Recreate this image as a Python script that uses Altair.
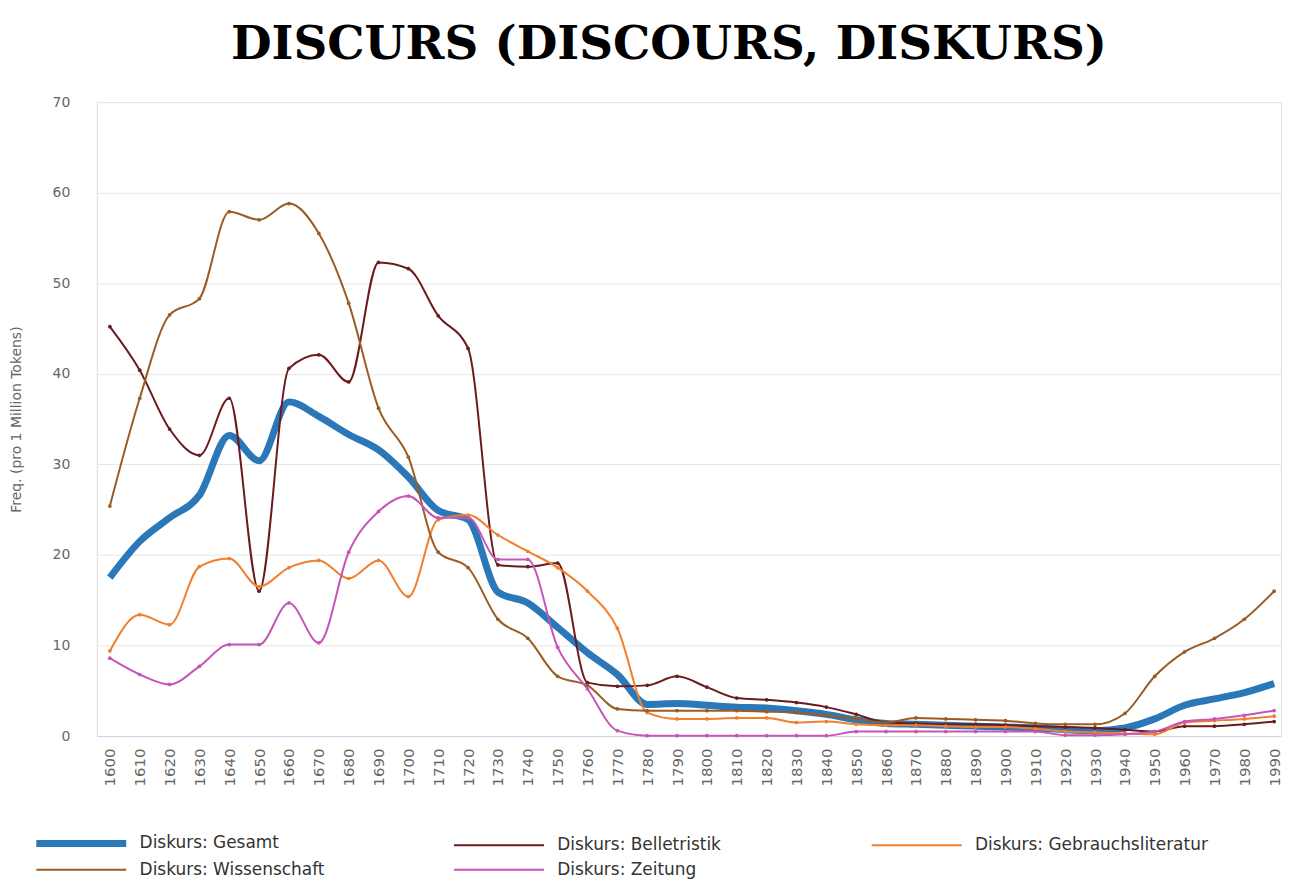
import altair as alt
import pandas as pd

years = list(range(1600, 2000, 10))

gesamt = [17.5, 21.5, 24.1, 26.6, 33.2, 30.4, 36.9, 35.3, 33.3, 31.6,
          28.6, 24.9, 23.9, 15.9, 14.7, 12.0, 9.2, 6.8, 3.5, 3.6,
          3.4, 3.2, 3.1, 2.8, 2.4, 1.8, 1.4, 1.3, 1.2, 1.1,
          1.0, 0.9, 0.7, 0.6, 0.9, 1.9, 3.4, 4.1, 4.8, 5.8]
belletristik = [45.2, 40.4, 33.9, 31.0, 37.3, 16.0, 40.6, 42.1, 39.1, 52.3,
                51.6, 46.4, 42.8, 18.9, 18.7, 19.1, 5.9, 5.5, 5.6, 6.6,
                5.4, 4.2, 4.0, 3.7, 3.2, 2.4, 1.5, 1.4, 1.3, 1.3,
                1.2, 1.1, 1.0, 0.9, 0.7, 0.5, 1.1, 1.1, 1.3, 1.6]
gebrauchsliteratur = [9.4, 13.4, 12.3, 18.7, 19.6, 16.5, 18.6, 19.4, 17.4, 19.4,
                      15.4, 23.9, 24.4, 22.2, 20.4, 18.6, 16.0, 11.9, 2.6, 1.9,
                      1.9, 2.0, 2.0, 1.5, 1.6, 1.3, 1.2, 1.2, 1.1, 1.0,
                      1.0, 0.8, 0.5, 0.4, 0.3, 0.2, 1.5, 1.7, 1.9, 2.2]
wissenschaft = [25.4, 37.3, 46.5, 48.3, 57.9, 57.0, 58.8, 55.5, 47.8, 36.2,
                30.8, 20.3, 18.6, 12.9, 10.8, 6.6, 5.6, 3.0, 2.8, 2.8,
                2.8, 2.8, 2.7, 2.6, 2.3, 1.9, 1.5, 2.0, 1.9, 1.8,
                1.7, 1.4, 1.3, 1.3, 2.5, 6.6, 9.3, 10.8, 12.9, 16.0]
zeitung = [8.6, 6.8, 5.7, 7.7, 10.1, 10.1, 14.7, 10.3, 20.3, 24.8,
           26.5, 24.1, 24.1, 19.5, 19.5, 9.8, 5.2, 0.6, 0.05, 0.05,
           0.05, 0.05, 0.05, 0.05, 0.05, 0.5, 0.5, 0.5, 0.5, 0.5,
           0.5, 0.5, 0.1, 0.1, 0.2, 0.5, 1.6, 1.9, 2.3, 2.8]

series_names = ["Diskurs: Gesamt", "Diskurs: Belletristik", "Diskurs: Gebrauchsliteratur",
                "Diskurs: Wissenschaft", "Diskurs: Zeitung"]
series_values = [gesamt, belletristik, gebrauchsliteratur, wissenschaft, zeitung]
series_colors = ["#2b78b9", "#6b1b1e", "#f07f2e", "#9a5c24", "#c655b8"]
series_widths = [7, 2, 2, 2, 2]

rows = []
for name, vals in zip(series_names, series_values):
    for yr, v in zip(years, vals):
        rows.append({"year": yr, "value": v, "series": name})
df = pd.DataFrame(rows)

x_enc = alt.X("year:Q", scale=alt.Scale(domain=[1595.6, 1992.3], nice=False, zero=False),
              axis=alt.Axis(values=years, format="d", labelAngle=270, labelAlign="right",
                            labelBaseline="middle", labelPadding=12, ticks=False, grid=False,
                            domain=True, domainColor="#ccd6eb", labelFont="DejaVu Sans",
                            labelFontSize=15, labelColor="#666666", title=None,
                            labelOverlap=False))
y_enc = alt.Y("value:Q", scale=alt.Scale(domain=[0, 70], nice=False),
              axis=alt.Axis(values=list(range(0, 80, 10)), title="Freq. (pro 1 Million Tokens)",
                            domain=False, ticks=False, gridColor="#e6e6e6", labelPadding=27,
                            labelFont="DejaVu Sans", labelFontSize=14, labelColor="#666666",
                            titleFont="DejaVu Sans", titleFontSize=14, titleColor="#666666",
                            titleFontWeight="normal", titleX=-80, titleY=318,
                            titleAngle=270, titleAlign="center", titleBaseline="middle"))

color_scale = alt.Scale(domain=series_names, range=series_colors)
width_scale = alt.Scale(type="ordinal", domain=series_names, range=series_widths)

legend = alt.Legend(title=None, orient="none", direction="horizontal", legendX=-30, legendY=729,
                    columns=3, gridAlign="all", columnPadding=77, rowPadding=0,
                    symbolType="M-4.1,0H4.1", symbolSize=484, labelOffset=44, labelLimit=0,
                    labelFont="DejaVu Sans", labelFontSize=17, labelColor="#333333",
                    padding=0, symbolLimit=0)

lines = alt.Chart(df).mark_line(interpolate="monotone").encode(
    x=x_enc,
    y=y_enc,
    color=alt.Color("series:N", scale=color_scale, legend=legend),
    strokeWidth=alt.StrokeWidth("series:N", scale=width_scale, legend=legend),
    order=alt.Order("series:N"),
)

points = alt.Chart(df).transform_filter(
    alt.datum.series != "Diskurs: Gesamt"
).mark_point(filled=True, size=14, opacity=1).encode(
    x=x_enc,
    y=y_enc,
    color=alt.Color("series:N", scale=color_scale, legend=None),
)

chart = alt.layer(lines, points).properties(
    width=1188,
    height=636,
    padding={"left": 89, "top": 93, "right": 2, "bottom": 150},
    autosize=alt.AutoSizeParams(type="none"),
    title=alt.Title("DISCURS (DISCOURS, DISKURS)", font="DejaVu Serif", fontSize=47,
                    fontWeight="bold", color="#000000", anchor="middle", dx=-20, offset=26),
).configure_view(strokeWidth=0).configure(background="white")

chart.save("out.html", embed_options={"renderer": "svg", "actions": False})
